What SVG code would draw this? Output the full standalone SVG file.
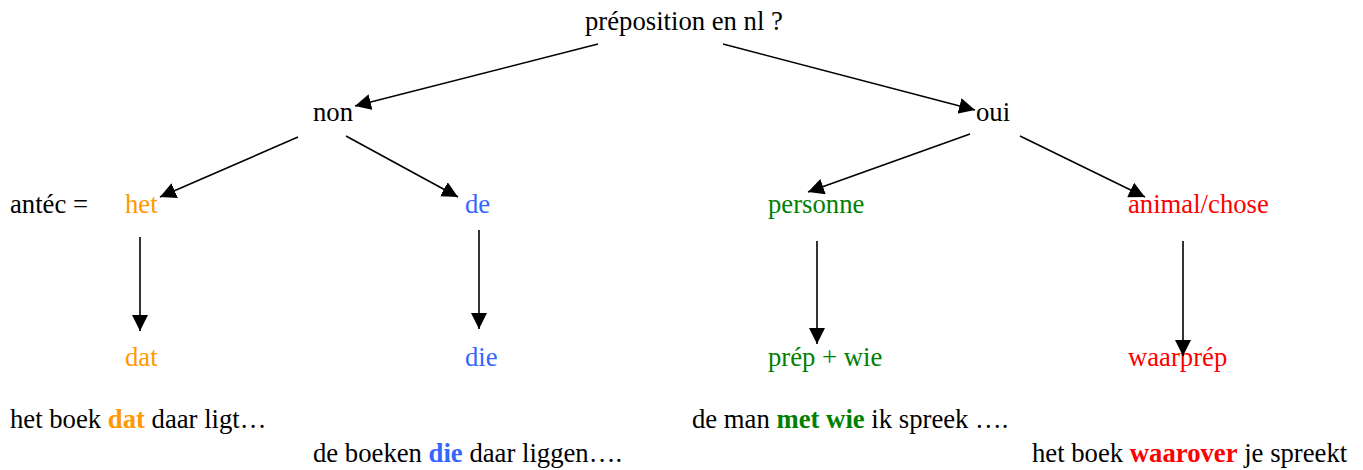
<svg xmlns="http://www.w3.org/2000/svg" width="1363" height="470" viewBox="0 0 1363 470">
<style>
text{font-family:"Liberation Serif","Times New Roman",serif;font-size:26.7px;fill:#000}
.o{fill:#FF9900}.b{fill:#3366FF}.g{fill:#008000}.r{fill:#FF0000}
.bold{font-weight:bold}
.c line{stroke:#000;stroke-width:1.6;marker-end:url(#ah)}
</style>
<defs>
<marker id="ah" viewBox="0 0 16 16" refX="16" refY="8" markerWidth="16" markerHeight="16" markerUnits="userSpaceOnUse" orient="auto">
<path d="M0,0 L16,8 L0,16 z" fill="#000"/>
</marker>
</defs>
<g id="root"><text x="585" y="30">préposition en nl ?</text></g>
<g id="non"><text x="313" y="121">non</text></g>
<g id="oui"><text x="976" y="121">oui</text></g>
<g id="antec"><text x="10" y="213">antéc =</text></g>
<g id="het"><text class="o" x="125" y="213">het</text></g>
<g id="de"><text class="b" x="465" y="213">de</text></g>
<g id="personne"><text class="g" x="768" y="213">personne</text></g>
<g id="animal"><text class="r" x="1128" y="213">animal/chose</text></g>
<g id="dat"><text class="o" x="125" y="366">dat</text></g>
<g id="die"><text class="b" x="465" y="366">die</text></g>
<g id="prepwie"><text class="g" x="768" y="366">prép + wie</text></g>
<g id="waarprep"><text class="r" x="1128" y="366">waarprép</text></g>
<g id="ex1"><text x="10" y="428">het boek <tspan class="o bold">dat</tspan> daar ligt…</text></g>
<g id="ex2"><text x="313" y="462">de boeken <tspan class="b bold">die</tspan> daar liggen….</text></g>
<g id="ex3"><text x="692" y="428">de man <tspan class="g bold">met wie</tspan> ik spreek ….</text></g>
<g id="ex4"><text x="1032" y="462">het boek <tspan class="r bold">waarover</tspan> je spreekt</text></g>
<g id="connectors" class="c">
<line x1="598" y1="44" x2="355" y2="106"/>
<line x1="723" y1="44" x2="975" y2="110"/>
<line x1="298" y1="137" x2="160" y2="197"/>
<line x1="346" y1="136" x2="458" y2="197"/>
<line x1="970" y1="134" x2="808" y2="192"/>
<line x1="1020" y1="136" x2="1145" y2="197"/>
<line x1="140" y1="237" x2="140" y2="331"/>
<line x1="479" y1="230" x2="479" y2="329"/>
<line x1="817" y1="241" x2="817" y2="344"/>
<line x1="1183" y1="241" x2="1183" y2="356"/>
</g>
</svg>
